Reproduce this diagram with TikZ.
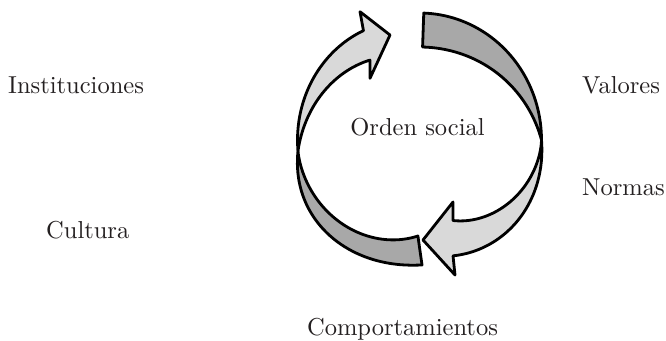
\documentclass[tikz,border=0pt]{standalone}
\usepackage{fontspec}
\setmainfont{lmroman10-regular.otf}
\definecolor{bandDark}{HTML}{A8A8A8}
\definecolor{bandLight}{HTML}{D9D9D9}
\definecolor{txt}{HTML}{231F20}
\def\cx{419.5}
\def\cy{140}
\def\rx{122}
\def\ry{127}
\begin{document}
\begin{tikzpicture}[x=1pt,y=-1pt,
  band/.style={draw=black,line width=2.8pt,line join=round},
  darkband/.style={band,fill=bandDark},
  lightband/.style={band,fill=bandLight},
  lbl/.style={inner sep=0pt,font=\fontsize{24.5}{29}\selectfont,text=txt}]
\useasboundingbox (0,0) rectangle (666,340);

% right arrow: dark back part (top -> right twist)
\draw[darkband]
  plot[domain=88:0,samples=45] ({\cx+\rx*cos(\x)},{\cy-\ry*sin(\x)})
  -- plot[domain=0:88,samples=45] ({\cx+(\rx-34*sin(\x))*cos(\x)},{\cy-(\ry-34*sin(\x))*sin(\x)})
  -- cycle;

% left arrow: dark back part (bottom -> left twist)
\draw[darkband]
  plot[domain=-88.8:-175,samples=45]
    ({\cx+(\rx-(2*(1-(-88.8-\x)/86.2)-8*sin((-88.8-\x)/86.2*sqrt(abs((-88.8-\x)/86.2))*180)))*cos(\x)},
     {\cy-(\ry-(2*(1-(-88.8-\x)/86.2)-8*sin((-88.8-\x)/86.2*sqrt(abs((-88.8-\x)/86.2))*180)))*sin(\x)})
  -- plot[domain=-175:-91,samples=45]
    ({\cx+(\rx-31*((\x+175)/84)*sqrt(abs((\x+175)/84)))*cos(\x)},
     {\cy-(\ry-31*((\x+175)/84)*sqrt(abs((\x+175)/84)))*sin(\x)})
  -- cycle;

% right arrow: light front part with head (right twist -> bottom)
\draw[lightband]
  plot[domain=0:-73.2,samples=45]
    ({\cx+(\rx-(-4*sin(-\x/73.2*180)+6*(-\x/73.2)*(-\x/73.2)*(-\x/73.2)))*cos(\x)},
     {\cy-(\ry-(-4*sin(-\x/73.2*180)+6*(-\x/73.2)*(-\x/73.2)*(-\x/73.2)))*sin(\x)})
  -- (455,275) -- (423,240) -- (453,202)
  -- plot[domain=-66.2:0,samples=45]
    ({\cx+(\rx-39*(abs(\x)/66.2)*sqrt(abs(\x)/66.2))*cos(\x)},
     {\cy-(\ry-39*(abs(\x)/66.2)*sqrt(abs(\x)/66.2))*sin(\x)})
  -- cycle;

% left arrow: light front part with head (left twist -> top)
\draw[lightband]
  plot[domain=185:118.1,samples=45]
    ({\cx+(\rx-3*((185-\x)/66.9)*((185-\x)/66.9)*((185-\x)/66.9))*cos(\x)},
     {\cy-(\ry-3*((185-\x)/66.9)*((185-\x)/66.9)*((185-\x)/66.9))*sin(\x)})
  -- (360,11.7) -- (390,35) -- (370,78.3)
  -- plot[domain=123.2:185,samples=45]
    ({\cx+(\rx-31.5*(185-\x)/61.8)*cos(\x)},
     {\cy-(\ry-31.5*(185-\x)/61.8)*sin(\x)})
  -- cycle;

\node[lbl,anchor=base] (orden) at (417.5,135) {Orden social};
\node[lbl,anchor=base west] (inst) at (8,93) {Instituciones};
\node[lbl,anchor=base west] (valores) at (582,93) {Valores};
\node[lbl,anchor=base west] (normas) at (582,195) {Normas};
\node[lbl,anchor=base west] (cultura) at (46,238) {Cultura};
\node[lbl,anchor=base] (comp) at (402.5,335) {Comportamientos};
\end{tikzpicture}
\end{document}
